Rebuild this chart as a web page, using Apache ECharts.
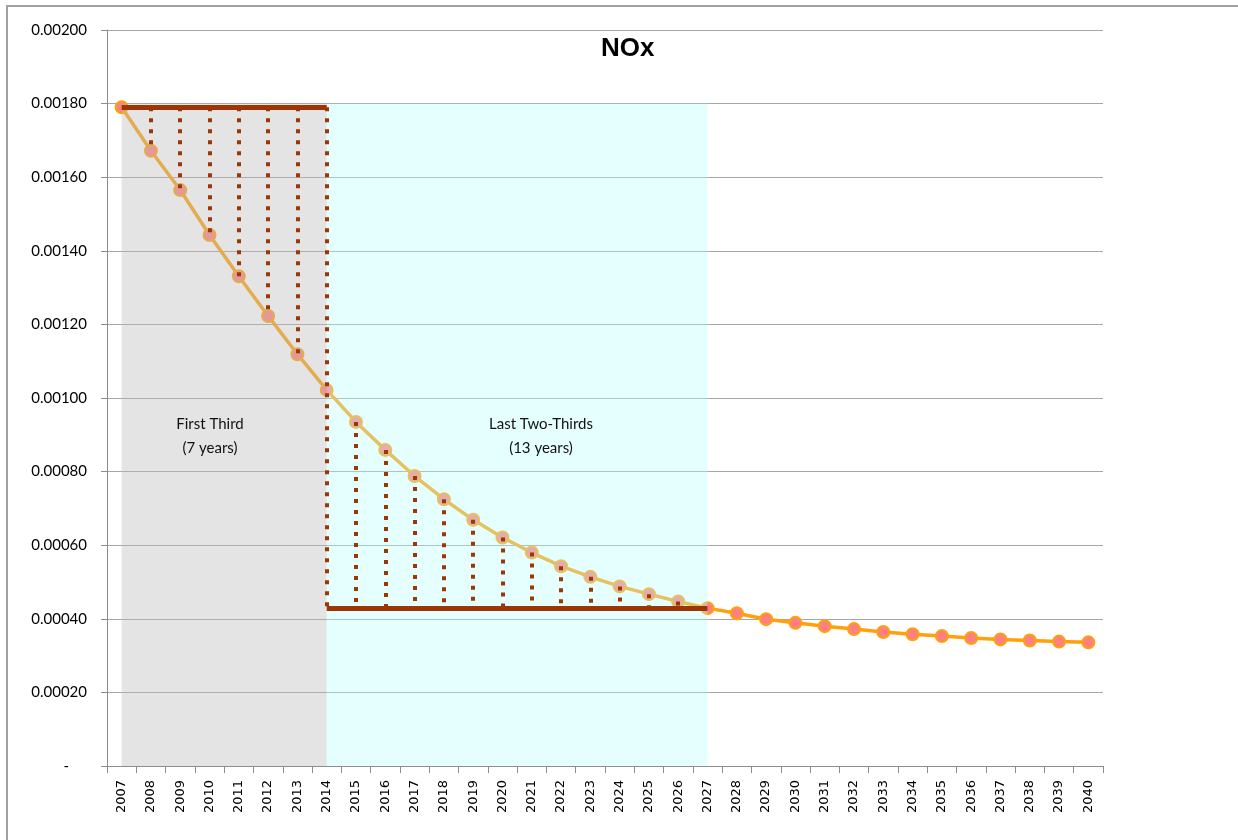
<!DOCTYPE html>
<html>
<head>
<meta charset="utf-8">
<script src="https://cdn.jsdelivr.net/npm/echarts@6/dist/echarts.min.js"></script>
<style>
html,body{margin:0;padding:0;background:#fff;}
#chart{width:1238px;height:840px;}
</style>
</head>
<body>
<div id="chart"></div>
<script>
// ---- data ----
const years = ['2007','2008','2009','2010','2011','2012','2013','2014','2015','2016','2017','2018','2019','2020','2021','2022','2023','2024','2025','2026','2027','2028','2029','2030','2031','2032','2033','2034','2035','2036','2037','2038','2039','2040'];
const noxValues = [0.001790,0.001672,0.001565,0.001443,0.001331,0.001223,0.001119,0.001022,0.000935,0.000859,0.000788,0.000725,0.000669,0.000621,0.000580,0.000543,0.000514,0.000488,0.000467,0.000447,0.000429,0.000415,0.000399,0.000389,0.000380,0.000372,0.000364,0.000358,0.000353,0.000348,0.000344,0.000341,0.000338,0.000336];
const yTickLabels = ['-','0.00020','0.00040','0.00060','0.00080','0.00100','0.00120','0.00140','0.00160','0.00180','0.00200'];
const titleText = 'NOx';
const periodStart = '2007';
const periodSplit = '2014';
const periodEnd = '2027';
const shadeTop = 0.0018;
const firstLabel = 'First Third\n(7 years)';
const lastLabel = 'Last Two-Thirds\n(13 years)';

// ---- derived helpers ----
const iStart = years.indexOf(periodStart);
const iSplit = years.indexOf(periodSplit);
const iEnd = years.indexOf(periodEnd);
const topVal = noxValues[iStart];
const bottomVal = noxValues[iEnd];

const solidLines = [
  [{coord:[periodStart, topVal]},{coord:[periodSplit, topVal]}],
  [{coord:[periodSplit, bottomVal]},{coord:[periodEnd, bottomVal]}]
];
const dottedLines = [];
for (let i = iStart + 1; i < iSplit; i++) {
  dottedLines.push([{coord:[years[i], topVal]},{coord:[years[i], noxValues[i]]}]);
}
dottedLines.push([{coord:[periodSplit, topVal]},{coord:[periodSplit, bottomVal]}]);
for (let i = iSplit + 1; i < iEnd; i++) {
  dottedLines.push([{coord:[years[i], noxValues[i]]},{coord:[years[i], bottomVal]}]);
}

const brown = '#9C3604';
const chart = echarts.init(document.getElementById('chart'), null, {renderer:'canvas'});
chart.setOption({
  animation: false,
  backgroundColor: '#ffffff',
  title: {
    text: titleText,
    left: 596,
    top: 31,
    textStyle: {fontFamily:'Liberation Sans', fontWeight:'bold', fontSize:26, color:'#000'}
  },
  grid: {left:107, right:135, top:30, bottom:74, containLabel:false},
  xAxis: {
    type: 'category',
    data: years,
    boundaryGap: true,
    axisLine: {show:true, lineStyle:{color:'#8c8c8c', width:1}},
    axisTick: {show:true, length:7, lineStyle:{color:'#8c8c8c'}},
    axisLabel: {rotate:90, margin:14, interval:0, fontFamily:'DejaVu Sans', fontSize:13, color:'#000'},
    splitLine: {show:false}
  },
  yAxis: {
    type: 'value',
    min: 0, max: 0.002, interval: 0.0002,
    axisLine: {show:true, lineStyle:{color:'#8c8c8c', width:1}},
    axisTick: {show:true, length:6, lineStyle:{color:'#8c8c8c'}},
    splitLine: {show:true, lineStyle:{color:'#a6a6a6', width:1}},
    axisLabel: {
      margin: 20,
      fontFamily:'Lato', fontSize:15, color:'#000',
      formatter: function (v) {
        const idx = Math.round(v / 0.0002);
        return idx === 0 ? '{dash|' + yTickLabels[0] + '}' : yTickLabels[idx];
      },
      rich: {dash: {fontFamily:'Lato', fontSize:15, color:'#000', padding:[0,18,0,0]}}
    }
  },
  graphic: [
    {type:'rect', silent:true, z:-10, shape:{x:7, y:6, width:1260, height:860}, style:{fill:'none', stroke:'#a0a0a0', lineWidth:2}},
    {type:'text', silent:true, z:20, x:210, y:412, style:{text:firstLabel, fontFamily:'Lato', fontSize:15, lineHeight:24, fill:'#111', textAlign:'center', textVerticalAlign:'top'}},
    {type:'text', silent:true, z:20, x:541, y:412, style:{text:lastLabel, fontFamily:'Lato', fontSize:15, lineHeight:24, fill:'#111', textAlign:'center', textVerticalAlign:'top'}}
  ],
  series: [
    {
      name: 'NOx',
      type: 'line',
      z: 2,
      data: noxValues,
      symbol: 'circle',
      symbolSize: 12,
      lineStyle: {color:'#FFA10A', width:3.5},
      itemStyle: {color:'#FF8080', borderColor:'#FFA10A', borderWidth:2}
    },
    {
      name: 'shade',
      type: 'line',
      z: 3,
      data: [],
      markArea: {
        silent: true,
        z: 3,
        data: [
          [{xAxis:periodStart, yAxis:0, itemStyle:{color:'rgba(187,187,187,0.4)'}},{xAxis:periodSplit, yAxis:shadeTop}],
          [{xAxis:periodSplit, yAxis:0, itemStyle:{color:'rgba(181,255,255,0.35)'}},{xAxis:periodEnd, yAxis:shadeTop}]
        ]
      }
    },
    {
      name: 'drops',
      type: 'line',
      z: 5,
      data: [],
      markLine: {
        silent: true,
        z: 5,
        symbol: ['none','none'],
        label: {show:false},
        lineStyle: {color:brown, width:4, type:[4,7], cap:'butt'},
        emphasis: {disabled:true},
        data: dottedLines
      }
    },
    {
      name: 'levels',
      type: 'line',
      z: 6,
      data: [],
      markLine: {
        silent: true,
        z: 6,
        symbol: ['none','none'],
        label: {show:false},
        lineStyle: {color:brown, width:5, type:'solid'},
        emphasis: {disabled:true},
        data: solidLines
      }
    }
  ]
});
</script>
</body>
</html>
